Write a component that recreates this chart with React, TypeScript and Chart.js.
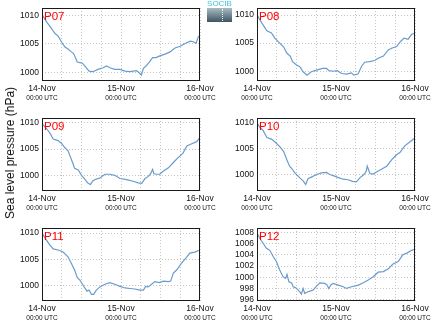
import React, { useEffect, useRef } from "react";
import { Chart, registerables } from "chart.js";

Chart.register(...registerables);

const FONT = "'Liberation Sans', Arial, Helvetica, sans-serif";
const LINE = "#6a9bcb";
const GRID = "#c4c4c4";
const TXT = "#111111";

const dayLabels = ["14-Nov", "15-Nov", "16-Nov"];
const dayHours = [0, 24, 48];
const timeLabel = "00:00 UTC";
const gridHours = [0, 6, 12, 18, 24, 30, 36, 42, 48];
const yLabel = "Sea level pressure (hPa)";

const stationNames = ["P07", "P08", "P09", "P10", "P11", "P12"];

const p07Hours = [0, 1.3, 2.8, 3.9, 4.9, 5.9, 6.9, 7.9, 8.9, 9.6, 10.3, 10.7, 11.5, 12.3, 13.3, 14.3, 15.5, 17, 18.6, 19.6, 20.6, 22.1, 23.7, 25.2, 26.7, 28.7, 29.5, 30.2, 30.8, 31.6, 32.6, 33.6, 34.6, 35.8, 37.4, 38.9, 40.4, 42, 43.5, 45, 46, 46.8, 47.5, 48];
const p07Values = [1010.2, 1009.0, 1007.8, 1006.9, 1006.4, 1005.4, 1004.5, 1004.1, 1003.6, 1003.3, 1002.4, 1001.8, 1001.7, 1001.6, 1000.9, 1000.2, 1000.1, 1000.5, 1000.8, 1001.1, 1000.8, 1000.5, 1000.5, 1000.2, 1000.1, 1000.3, 999.9, 999.5, 1000.7, 1001.1, 1001.8, 1002.6, 1002.6, 1002.9, 1003.2, 1003.6, 1004.3, 1004.6, 1005.1, 1005.5, 1005.4, 1005.1, 1006.3, 1006.4];

const p08Hours = [0, 0.8, 1.8, 3, 4.4, 5.4, 6.9, 8.1, 9.1, 10.1, 10.8, 12, 13, 14, 15.2, 16.5, 18.1, 19.9, 21.1, 21.9, 23.1, 24.4, 25.7, 27.2, 28.7, 29.4, 30.7, 31.7, 32.7, 34.2, 35.8, 36.8, 38.4, 39.9, 40.9, 42.4, 43.6, 44.7, 45.9, 47, 48];
const p08Values = [1010.1, 1009.2, 1008.3, 1007.2, 1006.8, 1005.9, 1005.0, 1004.3, 1003.2, 1002.7, 1001.7, 1001.1, 1000.8, 999.9, 999.3, 999.9, 1000.2, 1000.5, 1000.5, 1000.1, 1000.0, 1000.1, 999.6, 999.5, 999.7, 999.3, 999.5, 1000.8, 1001.6, 1001.7, 1001.9, 1002.3, 1002.7, 1003.8, 1004.1, 1004.4, 1005.3, 1005.9, 1005.7, 1006.6, 1006.8];

const p09Hours = [0, 1.3, 2.5, 3.4, 4.9, 5.9, 6.9, 7.9, 8.6, 9.4, 9.9, 11, 12, 13, 14, 14.7, 15.5, 16.5, 17.6, 19.1, 20.6, 22.1, 23.7, 25.7, 27.7, 29.2, 30.3, 31.3, 32.3, 33, 33.6, 34, 34.8, 35.8, 36.9, 38.4, 39.9, 41.5, 42.8, 44, 45.5, 47, 48];
const p09Values = [1009.75, 1008.9, 1007.9, 1006.9, 1006.6, 1006.1, 1005.3, 1004.7, 1003.6, 1002.3, 1001.4, 1001.1, 1000.1, 999.4, 998.6, 998.4, 999.1, 999.4, 999.6, 1000.3, 1000.3, 1000.1, 999.5, 999.3, 999.0, 998.7, 998.6, 999.5, 999.9, 1000.4, 1001.2, 1000.4, 1000.3, 1000.3, 1000.9, 1001.5, 1002.5, 1003.5, 1004.2, 1005.6, 1006.0, 1006.4, 1007.2];

const p10Hours = [0, 0.8, 1.8, 3, 4.4, 5.9, 7.1, 8.1, 9.1, 9.9, 10.5, 11.5, 12.8, 14, 14.8, 15.5, 16.5, 18.1, 19.6, 21.1, 22.1, 23.6, 24.7, 26.2, 27.7, 29, 30.2, 31.3, 32.3, 33.1, 33.5, 34.3, 35.3, 36.3, 37.8, 39.4, 40.9, 42.2, 43.4, 44.9, 46.5, 48];
const p10Values = [1009.9, 1009.1, 1008.5, 1007.1, 1006.8, 1006.0, 1005.2, 1004.4, 1002.8, 1001.6, 1001.2, 1000.3, 999.5, 998.8, 998.1, 999.2, 999.5, 1000.0, 1000.3, 1000.4, 1000.0, 999.7, 999.4, 999.1, 999.0, 998.7, 998.6, 999.4, 999.9, 1000.5, 1001.6, 1000.2, 1000.1, 1000.5, 1001.0, 1001.6, 1002.8, 1003.7, 1004.2, 1005.5, 1006.3, 1007.0];

const p11Hours = [0, 1.3, 2.3, 3.4, 4.9, 6.4, 7.9, 8.9, 9.9, 10.7, 11.5, 12.3, 13, 13.7, 14.3, 15, 15.7, 16.5, 17.6, 19.1, 20.6, 22.1, 23.7, 25.2, 26.7, 28.2, 29.7, 30.8, 31.5, 32.3, 33.3, 34.3, 35.6, 36.9, 38.4, 39.1, 39.9, 40.9, 42.4, 43.9, 44.9, 46.4, 48];
const p11Values = [1010.0, 1008.7, 1007.8, 1007.0, 1006.8, 1006.4, 1005.5, 1004.3, 1003.0, 1001.6, 1001.1, 1000.3, 999.6, 999.0, 999.2, 998.4, 998.4, 999.2, 999.8, 1000.3, 1000.6, 1000.3, 999.9, 999.6, 999.5, 999.4, 999.2, 999.2, 999.9, 999.8, 1000.3, 1000.8, 1000.6, 1000.9, 1000.8, 1000.9, 1002.4, 1003.0, 1004.3, 1005.4, 1006.2, 1006.4, 1006.8];

const p12Hours = [0, 0.8, 1.8, 2.8, 3.9, 4.9, 5.9, 6.9, 7.9, 8.7, 9.1, 9.7, 10.5, 11, 11.8, 12.5, 13, 13.5, 14, 14.5, 15.5, 17, 18.1, 19.1, 20.6, 21.3, 21.8, 22.4, 23.1, 24.7, 26.2, 27.2, 28.7, 30.8, 32.3, 33.8, 35.3, 36.8, 38.4, 39.9, 41.2, 42.9, 44.3, 45.5, 47, 48];
const p12Values = [1007.9, 1007.0, 1006.1, 1005.2, 1004.8, 1003.7, 1002.8, 1001.3, 1000.1, 999.8, 1000.5, 999.2, 999.0, 998.3, 998.1, 997.7, 997.4, 997.0, 998.0, 997.1, 997.4, 997.7, 998.4, 999.0, 998.9, 998.6, 998.0, 998.6, 998.9, 998.6, 998.3, 998.0, 998.3, 998.6, 999.0, 999.5, 1000.1, 1000.9, 1001.0, 1001.5, 1002.3, 1002.8, 1004.0, 1004.3, 1004.8, 1005.0];

const yTicksA = [1000, 1005, 1010];
const yTicksB = [996, 998, 1000, 1002, 1004, 1006, 1008];
const yMins = [998.45, 998.26, 997.17, 996.84, 997.13, 995.76];
const yMaxs = [1011.37, 1011.26, 1010.82, 1010.84, 1010.96, 1008.78];

const allHours = [p07Hours, p08Hours, p09Hours, p10Hours, p11Hours, p12Hours];
const allValues = [p07Values, p08Values, p09Values, p10Values, p11Values, p12Values];
const allTicks = [yTicksA, yTicksA, yTicksA, yTicksA, yTicksA, yTicksB];

const framePlugin = {
  id: "frame",
  afterDatasetsDraw(chart: any, _args: any, opts: any) {
    const { ctx, chartArea } = chart;
    const l = Math.round(chartArea.left) + 0.5;
    const t = Math.round(chartArea.top) + 0.5;
    const r = Math.round(chartArea.right) - 0.5;
    const b = Math.round(chartArea.bottom) - 0.5;
    ctx.save();
    ctx.strokeStyle = "#1a1a1a";
    ctx.lineWidth = 1;
    ctx.strokeRect(l, t, r - l, b - t);
    ctx.fillStyle = "#ff0000";
    ctx.font = `11.5px ${FONT}`;
    ctx.textBaseline = "alphabetic";
    ctx.textAlign = "left";
    ctx.fillText(opts.label || "", chartArea.left + 2, chartArea.top + 11.5);
    ctx.restore();
  },
};

function Panel(props: { idx: number; left: number; top: number; width: number; padRight: number }) {
  const ref = useRef<HTMLCanvasElement>(null);
  const { idx, left, top, width, padRight } = props;
  const height = 104;
  useEffect(() => {
    const hours = allHours[idx];
    const values = allValues[idx];
    const ticks = allTicks[idx];
    const chart = new Chart(ref.current as HTMLCanvasElement, {
      type: "line",
      data: {
        datasets: [
          {
            data: hours.map((h, i) => ({ x: h, y: values[i] })),
            borderColor: LINE,
            borderWidth: 1.2,
            pointRadius: 0,
            tension: 0,
            fill: false,
          },
        ],
      },
      options: {
        animation: false,
        responsive: false,
        maintainAspectRatio: false,
        events: [],
        layout: { padding: { top: 8, right: padRight, left: 0, bottom: 0 } },
        plugins: {
          legend: { display: false },
          tooltip: { enabled: false },
          frame: { label: stationNames[idx] },
        } as any,
        scales: {
          x: {
            type: "linear",
            position: "bottom",
            weight: 0,
            min: 0,
            max: 48,
            afterBuildTicks: (s: any) => {
              s.ticks = gridHours.map((v) => ({ value: v }));
            },
            afterFit: (s: any) => {
              s.height = 11;
              s.paddingLeft = 0;
              s.paddingRight = 0;
            },
            grid: { color: GRID, lineWidth: 1, drawTicks: false },
            border: { display: false, dash: [1, 2] },
            ticks: {
              autoSkip: false,
              maxRotation: 0,
              padding: 3,
              color: TXT,
              font: { family: FONT, size: 8.5 },
              callback: (v: any) => {
                const k = dayHours.indexOf(Number(v));
                return k >= 0 ? dayLabels[k] : "";
              },
            },
          },
          x2: {
            type: "linear",
            axis: "x",
            position: "bottom",
            weight: 1,
            min: 0,
            max: 48,
            afterBuildTicks: (s: any) => {
              s.ticks = dayHours.map((v) => ({ value: v }));
            },
            afterFit: (s: any) => {
              s.height = 12;
              s.paddingLeft = 0;
              s.paddingRight = 0;
            },
            grid: { display: false, drawTicks: false },
            border: { display: false },
            ticks: {
              autoSkip: false,
              maxRotation: 0,
              padding: 2,
              color: TXT,
              font: { family: FONT, size: 6.5 },
              callback: () => timeLabel,
            },
          },
          y: {
            type: "linear",
            min: yMins[idx],
            max: yMaxs[idx],
            afterBuildTicks: (s: any) => {
              s.ticks = ticks.map((v) => ({ value: v }));
            },
            afterFit: (s: any) => {
              s.width = 42;
              s.paddingTop = 0;
              s.paddingBottom = 0;
            },
            grid: { color: GRID, lineWidth: 1, drawTicks: false },
            border: { display: false, dash: [1, 2] },
            ticks: {
              autoSkip: false,
              padding: 3,
              color: TXT,
              font: { family: FONT, size: 8.5 },
              callback: (v: any) => String(v),
            },
          },
        } as any,
      },
      plugins: [framePlugin],
    });
    return () => chart.destroy();
  }, []);
  return (
    <canvas
      ref={ref}
      width={width}
      height={height}
      style={{ position: "absolute", left, top, width, height }}
    />
  );
}

export default function App() {
  const rows = [0, 110, 220];
  return (
    <div
      style={{
        position: "fixed",
        left: 0,
        top: 0,
        width: 434,
        height: 327,
        overflow: "hidden",
        background: "#ffffff",
      }}
    >
      {rows.map((top, r) => (
        <React.Fragment key={r}>
          <Panel idx={r * 2} left={0} top={top} width={220} padRight={20} />
          <Panel idx={r * 2 + 1} left={215} top={top} width={219} padRight={19} />
        </React.Fragment>
      ))}
      <div
        style={{
          position: "absolute",
          left: 10,
          top: 153,
          transform: "translate(-50%, -50%) rotate(-90deg)",
          whiteSpace: "nowrap",
          fontFamily: FONT,
          fontSize: 12,
          color: "#111",
        }}
      >
        {yLabel}
      </div>
      <div style={{ position: "absolute", left: 207, top: 0, width: 25, height: 22 }}>
        <div
          style={{
            fontFamily: FONT,
            fontSize: 8,
            lineHeight: "8px",
            color: "#3fc1d6",
            textAlign: "center",
            letterSpacing: 0,
          }}
        >
          SOCIB
        </div>
        <div
          style={{
            width: 25,
            height: 14,
            background: "linear-gradient(#a9bcc4, #3e5563)",
            position: "relative",
          }}
        >
          <div
            style={{
              position: "absolute",
              left: 15,
              top: 1,
              width: 1,
              height: 12,
              borderLeft: "1px dotted #e8f0f4",
            }}
          />
        </div>
      </div>
    </div>
  );
}
